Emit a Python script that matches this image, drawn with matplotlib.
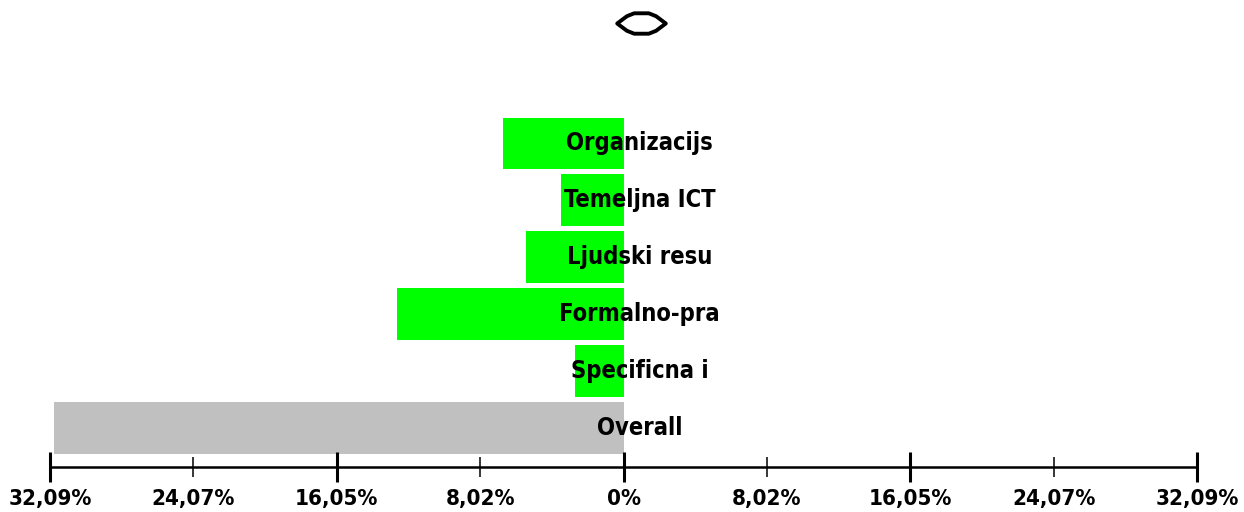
import matplotlib.pyplot as plt
from matplotlib.path import Path

# values (percent, bars point left from 0)
categories = ["Overall", "Specificna i", "Formalno-pra", "Ljudski resu", "Temeljna ICT", "Organizacijs"]
values = [31.85, 2.74, 12.70, 5.43, 3.47, 6.77]
bar_colors = ["#c0c0c0", "#00ff00", "#00ff00", "#00ff00", "#00ff00", "#00ff00"]

major_ticks = [-32.09, -16.05, 0, 16.05, 32.09]
major_labels = ["32,09%", "16,05%", "0%", "16,05%", "32,09%"]
minor_ticks = [-24.07, -8.02, 8.02, 24.07]
minor_labels = ["24,07%", "8,02%", "8,02%", "24,07%"]

FONT = ["DejaVu Sans", "Liberation Sans"]

fig = plt.figure(figsize=(12.44, 5.12), dpi=100)
ax = fig.add_axes([50 / 1244, 45 / 512, 1147 / 1244, 467 / 512])

ypos = list(range(len(categories)))
ax.barh(ypos, [-v for v in values], height=0.91, color=bar_colors, edgecolor="none")
for y, name in zip(ypos, categories):
    ax.text(0.9, y, name, ha="center", va="center", fontsize=17, fontweight="bold",
            fontstretch="condensed", family=FONT, color="black")

# lens shaped marker at the top
lens = Path([(-1, 0), (-0.6, 0.3), (-0.3, 0.42), (0.3, 0.42), (0.6, 0.3), (1, 0),
             (0.6, -0.3), (0.3, -0.42), (-0.3, -0.42), (-0.6, -0.3), (-1, 0)],
            [Path.MOVETO] + [Path.LINETO] * 9 + [Path.CLOSEPOLY])
ax.plot([1.0], [7.12], marker=lens, markersize=35, markerfacecolor="white",
        markeredgecolor="black", markeredgewidth=2.8, linestyle="none")

ax.set_xlim(-32.09, 32.09)
ax.set_ylim(-0.685, 7.52)
ax.set_yticks([])
for s in ["top", "left", "right"]:
    ax.spines[s].set_visible(False)
ax.spines["bottom"].set_linewidth(1.8)

ax.set_xticks(major_ticks)
ax.set_xticklabels(major_labels)
ax.set_xticks(minor_ticks, minor=True)
ax.set_xticklabels(minor_labels, minor=True)
ax.tick_params(axis="x", which="major", direction="inout", length=21.6, width=2.2, pad=5)
ax.tick_params(axis="x", which="minor", direction="inout", length=13.7, width=1.1, pad=9)
for lab in ax.get_xticklabels(which="both"):
    lab.set_family(FONT)
    lab.set_fontsize(16)
    lab.set_fontweight("bold")
    lab.set_fontstretch("condensed")

fig.savefig("out.png", dpi=100)
